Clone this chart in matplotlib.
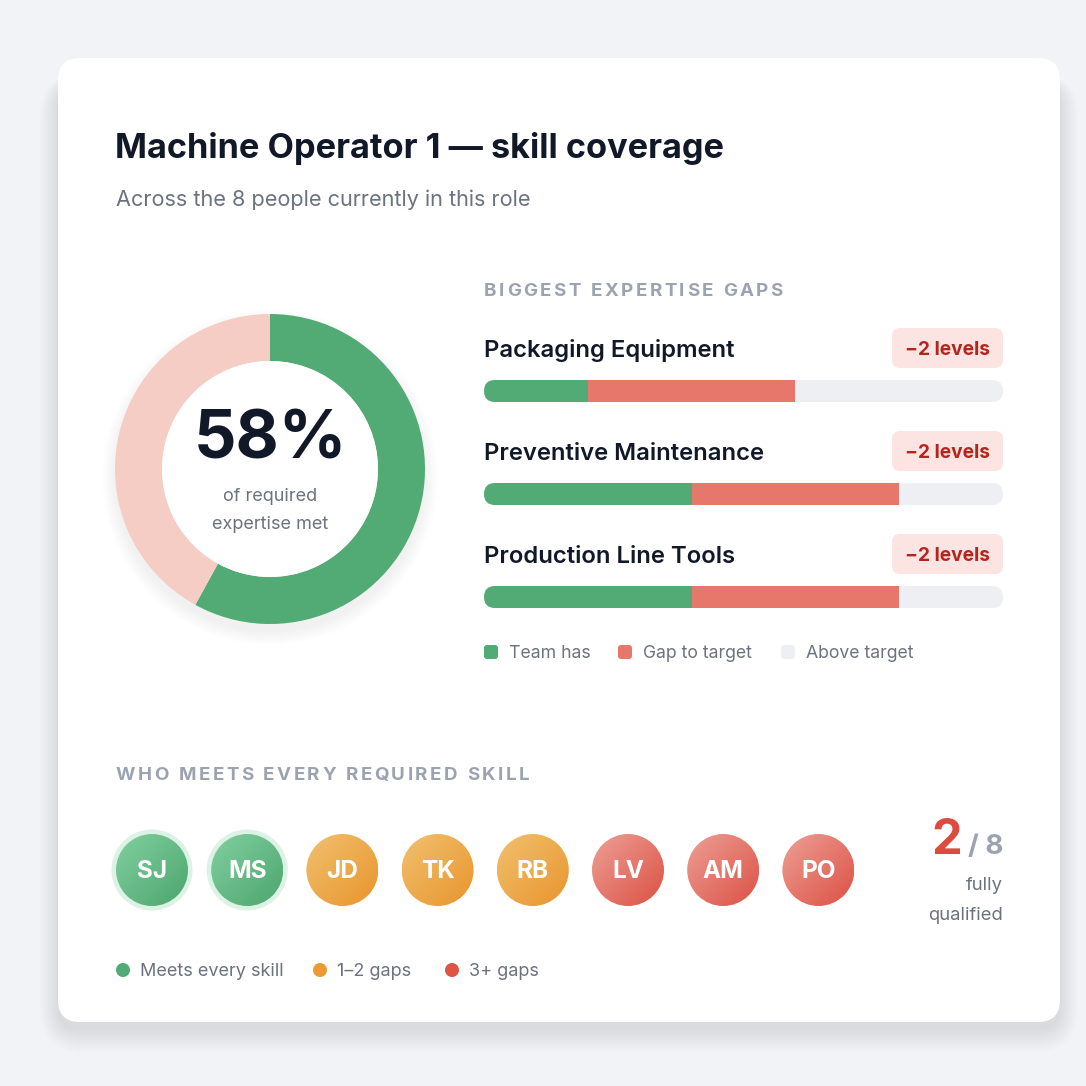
import numpy as np
import matplotlib.pyplot as plt
from matplotlib.patches import FancyBboxPatch, Circle
from matplotlib.colors import LinearSegmentedColormap

plt.rcParams['font.family'] = ['Inter', 'DejaVu Sans']

# Data
TITLE = "Machine Operator 1 \u2014 skill coverage"
SUBTITLE = "Across the 8 people currently in this role"
COVERAGE_PCT = 58

SKILLS = ["Packaging Equipment", "Preventive Maintenance", "Production Line Tools"]
TEAM_HAS = [1, 2, 2]
TARGET = [3, 4, 4]
MAX_LEVEL = 5

PEOPLE = ["SJ", "MS", "JD", "TK", "RB", "LV", "AM", "PO"]
GAPS = [0, 0, 1, 2, 1, 3, 4, 3]

# Colours
BG = "#f2f3f7"
TITLE_C = "#111827"
SUB_C = "#6b7280"
SECTION_C = "#9ca3b0"
GREEN = "#52ab74"
RED = "#e8776b"
TRACK = "#eeeff3"
PINK = "#f6cdc5"
BADGE_BG = "#fbe4e1"
BADGE_TXT = "#b3261e"
AVATAR_GRAD = {
    "ok": ("#82d0a0", "#4ca56e"),
    "few": ("#f1c06f", "#e9952d"),
    "many": ("#ed9f96", "#dc5144"),
}
DOT_C = {"ok": "#52ab74", "few": "#ec9a36", "many": "#de5446"}

W = H = 1086
fig = plt.figure(figsize=(W / 100, H / 100), dpi=100)
fig.patch.set_facecolor(BG)
ax = fig.add_axes([0, 0, 1, 1])
ax.set_xlim(0, W)
ax.set_ylim(H, 0)
ax.axis('off')
renderer = fig.canvas.get_renderer()


def spaced_text(x, y, s, spacing, **kw):
    # draws text with extra letter spacing, one char at a time
    for i, ch in enumerate(s):
        if ch != " ":
            ax.text(x, y, ch, **kw)
        t = ax.text(0, 0, ch if ch != " " else "a a", **kw)
        w = t.get_window_extent(renderer).width
        if ch == " ":
            t2 = ax.text(0, 0, "aa", **kw)
            w = w - t2.get_window_extent(renderer).width
            t2.remove()
        t.remove()
        x += w + spacing


# card with soft shadow (mostly below the card)
for i in range(24):
    ax.add_patch(FancyBboxPatch((58 - i * 0.8, 76 - i * 0.5 + 8), 1002 + 1.6 * i, 946 + 1.5 * i,
                                boxstyle="round,pad=0,rounding_size=%d" % (22 + i),
                                fc="#1f2937", ec="none", alpha=0.0035, zorder=0))
ax.add_patch(FancyBboxPatch((58, 58), 1002, 964, boxstyle="round,pad=0,rounding_size=22",
                            fc="white", ec="none", zorder=1))

ax.text(115, 158, TITLE, fontsize=24.7, fontweight='bold', color=TITLE_C, va='baseline', zorder=3)
ax.text(116, 206, SUBTITLE, fontsize=15.6, color=SUB_C, va='baseline', zorder=3)

# donut
cx, cy, r_out, r_in = 270, 469, 155, 108
for i in range(14):
    ax.add_patch(Circle((cx, cy + 8), r_out + i, fc="#1f2937", ec="none", alpha=0.003, zorder=2))
dax = fig.add_axes([(cx - r_out) / W, 1 - (cy + r_out) / H, 2 * r_out / W, 2 * r_out / H])
dax.pie([COVERAGE_PCT, 100 - COVERAGE_PCT], colors=[GREEN, PINK], startangle=90,
        counterclock=False, radius=1, wedgeprops=dict(width=1 - r_in / r_out, linewidth=0))
dax.add_patch(Circle((0, 0), r_in / r_out, fc="white", ec="none"))
dax.set_xlim(-1, 1)
dax.set_ylim(-1, 1)
dax.set_aspect('equal')
dax.axis('off')
dax.text(0, 0.18, f"{COVERAGE_PCT}%", fontsize=48, fontweight='bold', color=TITLE_C,
         ha='center', va='center')
dax.text(0, -0.18, "of required", fontsize=13, color=SUB_C, ha='center', va='center')
dax.text(0, -0.355, "expertise met", fontsize=13, color=SUB_C, ha='center', va='center')

# expertise gaps
spaced_text(484, 296, "BIGGEST EXPERTISE GAPS", 2.5, fontsize=13.5, fontweight='bold',
            color=SECTION_C, va='baseline', zorder=3)

bx0, bx1 = 484, 1003
bar_h = 22
bx = fig.add_axes([bx0 / W, 0, (bx1 - bx0) / W, 1])
bx.set_xlim(0, MAX_LEVEL)
bx.set_ylim(H, 0)
bx.axis('off')
for i, (name, has, tgt) in enumerate(zip(SKILLS, TEAM_HAS, TARGET)):
    yb = 391 + i * 103
    ax.text(484, yb - 34, name, fontsize=17.2, fontweight='semibold', color=TITLE_C,
            va='baseline', zorder=3)
    badge = FancyBboxPatch((892, yb - 63), 111, 40, boxstyle="round,pad=0,rounding_size=8",
                           fc=BADGE_BG, ec="none", zorder=3)
    ax.add_patch(badge)
    ax.text(947.5, yb - 41, f"\u2212{tgt - has} levels", fontsize=13.8, fontweight='bold',
            color=BADGE_TXT, ha='center', va='center', zorder=4)
    track = FancyBboxPatch((bx0, yb - bar_h / 2), bx1 - bx0, bar_h,
                           boxstyle="round,pad=0,rounding_size=11", fc=TRACK, ec="none", zorder=3)
    ax.add_patch(track)
    b1 = bx.barh(yb, has, height=bar_h, color=GREEN, linewidth=0, zorder=4)
    b2 = bx.barh(yb, tgt - has, left=has, height=bar_h, color=RED, linewidth=0, zorder=4)
    for p in list(b1) + list(b2):
        p.set_clip_path(track)

legend_items = [("Team has", GREEN, 484), ("Gap to target", RED, 618), ("Above target", TRACK, 781)]
for label, col, lx in legend_items:
    ax.add_patch(FancyBboxPatch((lx, 645), 14, 14, boxstyle="round,pad=0,rounding_size=3",
                                fc=col, ec="none", zorder=3))
    ax.text(lx + 25, 654, label, fontsize=12.7, color=SUB_C, va='center', zorder=3)

# people
spaced_text(116, 780, "WHO MEETS EVERY REQUIRED SKILL", 2.5, fontsize=13.5, fontweight='bold',
            color=SECTION_C, va='baseline', zorder=3)


def status(g):
    if g == 0:
        return "ok"
    return "few" if g <= 2 else "many"


grad = np.add.outer(np.linspace(0, 1, 100), np.linspace(0, 1, 100)) / 2
ay = 870
ar = 36
for i, (init, g) in enumerate(zip(PEOPLE, GAPS)):
    axc = 152 + i * 95.2
    st = status(g)
    if st == "ok":
        ax.add_patch(Circle((axc, ay), ar + 4.5, fc="#dcf2e4", ec="none", zorder=3))
    cmap = LinearSegmentedColormap.from_list(st, AVATAR_GRAD[st])
    clip = Circle((axc, ay), ar, fc="none", ec="none", transform=ax.transData)
    ax.add_patch(clip)
    im = ax.imshow(grad, cmap=cmap, extent=(axc - ar, axc + ar, ay + ar, ay - ar),
                   zorder=4, interpolation='bilinear')
    im.set_clip_path(clip)
    ax.text(axc, ay + 2, init, fontsize=17.5, fontweight='bold', color="white",
            ha='center', va='center', zorder=5)

ax.set_xlim(0, W)
ax.set_ylim(H, 0)

n_ok = sum(1 for g in GAPS if g == 0)
t8 = ax.text(1003, 854, f"/ {len(PEOPLE)}", fontsize=20, fontweight='bold', color=SECTION_C,
             ha='right', va='baseline', zorder=3)
w8 = t8.get_window_extent(renderer).width
ax.text(1003 - w8 - 6, 854, str(n_ok), fontsize=35, fontweight='bold', color="#dc4c3e",
        ha='right', va='baseline', zorder=3)
ax.text(1003, 885, "fully", fontsize=13.3, color=SUB_C, ha='right', va='center', zorder=3)
ax.text(1003, 916, "qualified", fontsize=13.3, color=SUB_C, ha='right', va='center', zorder=3)

legend2 = [("Meets every skill", "ok", 123), ("1\u20132 gaps", "few", 320), ("3+ gaps", "many", 452)]
for label, st, lx in legend2:
    ax.add_patch(Circle((lx, 970), 7, fc=DOT_C[st], ec="none", zorder=3))
    ax.text(lx + 17, 972, label, fontsize=13, color=SUB_C, va='center', zorder=3)

fig.savefig("out.png", dpi=100, facecolor=BG)
